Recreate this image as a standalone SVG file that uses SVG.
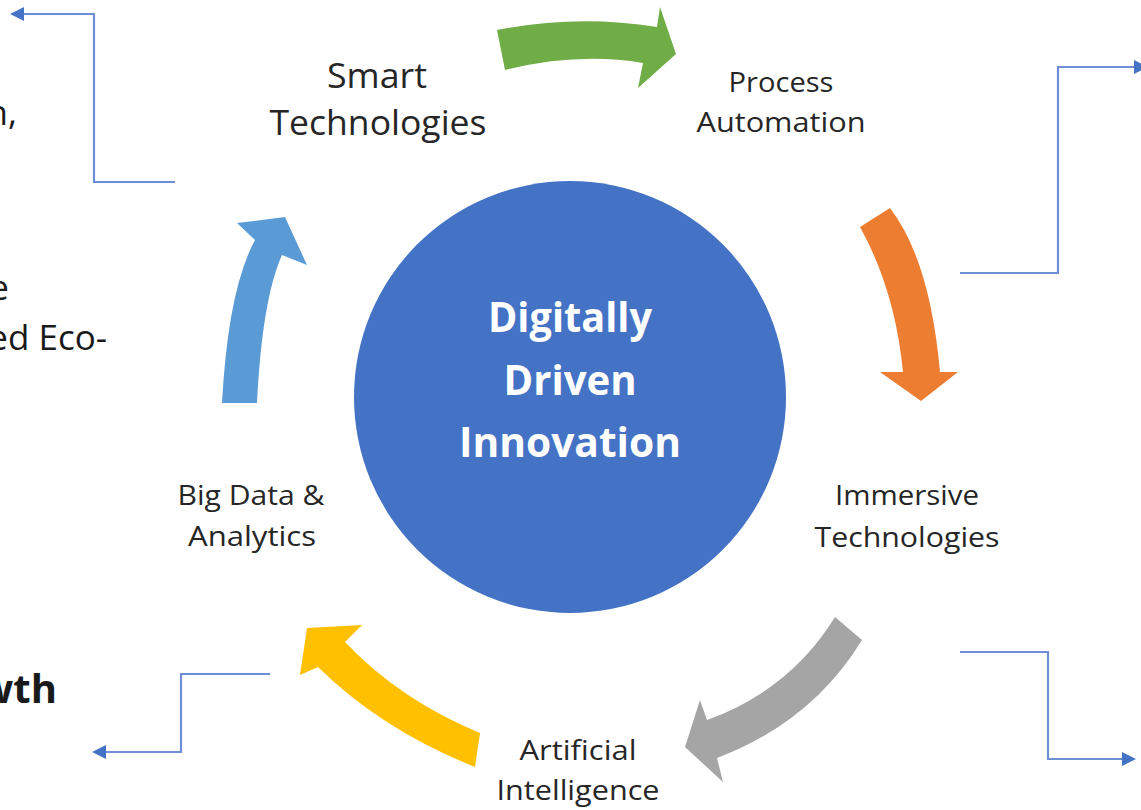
<svg xmlns="http://www.w3.org/2000/svg" width="1141" height="810" viewBox="0 0 1141 810">
<defs>
<style>
.lbl{font-family:"Open Sans","Noto Sans","Liberation Sans",sans-serif;fill:#262626;text-anchor:middle}
.big{font-size:35px}
.med{font-size:27px}
.core{font-family:"Open Sans","Noto Sans","Liberation Sans",sans-serif;font-weight:bold;font-size:41px;fill:#ffffff;text-anchor:middle}
.edge{font-family:"Open Sans","Noto Sans","Liberation Sans",sans-serif;fill:#1a1a1a;text-anchor:end}
.conn{fill:none;stroke:#6F8ED3;stroke-width:2.2}
</style>
<marker id="ah" markerUnits="userSpaceOnUse" markerWidth="14" markerHeight="14" refX="0" refY="7" orient="auto">
<path d="M0,0 L14,7 L0,14 z" fill="#4472C4"/>
</marker>
</defs>
<rect width="1141" height="810" fill="#ffffff"/>

<g id="edge-texts">
<text class="edge" x="17" y="125" font-size="35">n,</text>
<text class="edge" x="9" y="300" font-size="35">e</text>
<text class="edge" x="107" y="350" font-size="35">ed Eco-</text>
<text class="edge" x="57" y="703" font-size="40" font-weight="bold">wth</text>
</g>

<g id="connectors">
<path class="conn" d="M175,182 H94 V14 H24" marker-end="url(#ah)"/>
<path class="conn" d="M960,273 H1058 V67 H1134" marker-end="url(#ah)"/>
<path class="conn" d="M960,652 H1048 V759 H1122" marker-end="url(#ah)"/>
<path class="conn" d="M270,674 H181 V752 H106" marker-end="url(#ah)"/>
</g>

<g id="cycle-arrows">
<path id="arrow-green" fill="#70AD47" d="M497,30 Q577,14 657,27 L660,7 L676,54 L638,88 L643,63 Q578,52 505,70 Z"/>
<path id="arrow-orange" fill="#ED7D31" d="M860,227 Q895,290 903,372 L880,372 L921,401 L958,372 L940,372 Q930,260 890,208 Z"/>
<path id="arrow-grey" fill="#A5A5A5" d="M835,617 L862,640 Q812,722 717,758 L723,782 L685,747 L700,700 L707,720 Q790,690 835,617 Z"/>
<path id="arrow-yellow" fill="#FFC000" d="M480,733 L475,767 Q382,730 318,667 L300,675 L307,628 L362,625 L345,642 Q400,700 480,733 Z"/>
<path id="arrow-blue" fill="#5B9BD5" d="M222,403 Q228,290 255,240 L237,223 L285,217 L307,265 L282,255 Q262,300 257,403 Z"/>
</g>

<g id="center">
<circle cx="570" cy="397" r="216" fill="#4472C4"/>
<text class="core" x="570" y="332" textLength="164" lengthAdjust="spacingAndGlyphs">Digitally</text>
<text class="core" x="570" y="395" textLength="133" lengthAdjust="spacingAndGlyphs">Driven</text>
<text class="core" x="570" y="457" textLength="222" lengthAdjust="spacingAndGlyphs">Innovation</text>
</g>

<g id="smart-technologies">
<text class="lbl big" x="377" y="88" textLength="100" lengthAdjust="spacingAndGlyphs">Smart</text>
<text class="lbl big" x="378" y="135" textLength="217" lengthAdjust="spacingAndGlyphs">Technologies</text>
</g>

<g id="process-automation">
<text class="lbl med" x="781" y="92" textLength="105" lengthAdjust="spacingAndGlyphs">Process</text>
<text class="lbl med" x="781" y="132" textLength="169" lengthAdjust="spacingAndGlyphs">Automation</text>
</g>

<g id="immersive-technologies">
<text class="lbl med" x="907" y="505" textLength="144" lengthAdjust="spacingAndGlyphs">Immersive</text>
<text class="lbl med" x="907" y="547" textLength="185" lengthAdjust="spacingAndGlyphs">Technologies</text>
</g>

<g id="artificial-intelligence">
<text class="lbl med" x="578" y="760" textLength="117" lengthAdjust="spacingAndGlyphs">Artificial</text>
<text class="lbl med" x="578" y="800" textLength="163" lengthAdjust="spacingAndGlyphs">Intelligence</text>
</g>

<g id="big-data-analytics">
<text class="lbl med" x="251" y="505" textLength="147" lengthAdjust="spacingAndGlyphs">Big Data &amp;</text>
<text class="lbl med" x="252" y="546" textLength="128" lengthAdjust="spacingAndGlyphs">Analytics</text>
</g>
</svg>
